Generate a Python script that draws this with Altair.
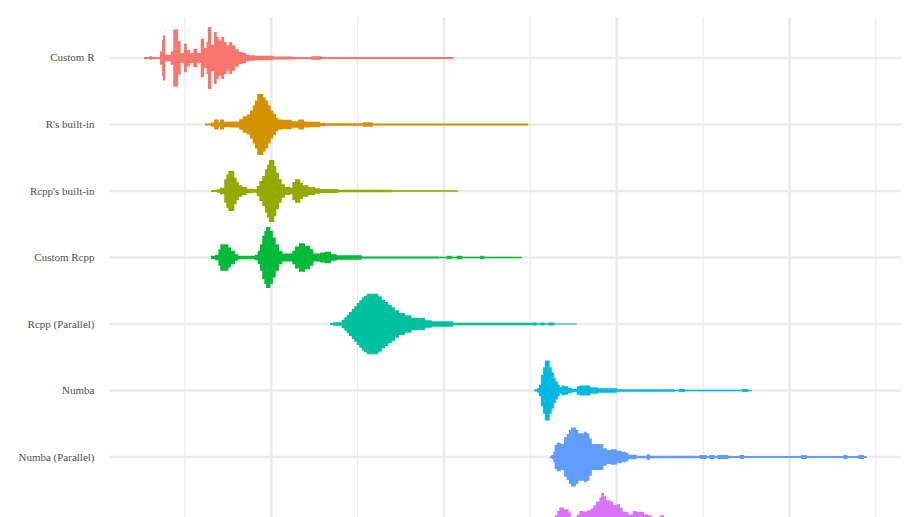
import json
import altair as alt
import pandas as pd

# ---- categories (top to bottom) and colours ----
groups = ["Custom R", "R's built-in", "Rcpp's built-in", "Custom Rcpp",
          "Rcpp (Parallel)", "Numba", "Numba (Parallel)", "Numba (GPU)"]
colors = ["#F8766D", "#D39200", "#93AA00", "#00BA38",
          "#00C19F", "#00B9E3", "#619CFF", "#DB72FB"]

# ---- violin profiles: value positions and half-widths (density, in row units) ----
custom_r_x = [26.3, 29.4, 31.0, 35.6, 36.8, 37.3, 38.7, 41.8, 43.3, 46.0, 47.6, 49.5, 51.1,
              53.0, 54.9, 57.2, 59.2, 61.1, 62.6, 63.4, 65.3, 66.9, 68.4, 69.6, 71.1, 72.7,
              74.2, 75.7, 77.3, 79.2, 81.2, 83.5, 85.4, 87.3, 90.6, 101.2, 112.8, 123.4,
              129.2, 205.4]
custom_r_w = [0.015, 0.026, 0.015, 0.10, 0.27, 0.34, 0.05, 0.10, 0.43, 0.25, 0.075, 0.215,
              0.125, 0.075, 0.14, 0.075, 0.29, 0.15, 0.24, 0.466, 0.20, 0.39, 0.316, 0.266,
              0.316, 0.24, 0.19, 0.24, 0.19, 0.13, 0.09, 0.08, 0.05, 0.04, 0.035, 0.023,
              0.015, 0.026, 0.015, 0.015]

r_builtin_x = [61.7, 65.1, 66.9, 69.6, 70.3, 72.7, 76.5, 81.5, 83.5, 85.8, 87.7, 89.3, 90.6,
               91.9, 95.4, 96.8, 98.3, 99.7, 101.2, 102.8, 104.1, 106.1, 111.9, 115.7, 119.0,
               122.1, 128.2, 131.1, 153.0, 158.8, 248.8]
r_builtin_w = [0.015, 0.03, 0.075, 0.03, 0.075, 0.04, 0.045, 0.08, 0.125, 0.15, 0.21, 0.286,
               0.36, 0.46, 0.406, 0.36, 0.286, 0.21, 0.16, 0.10, 0.075, 0.07, 0.05, 0.075,
               0.045, 0.04, 0.026, 0.02, 0.035, 0.015, 0.015]

rcpp_builtin_x = [65.1, 68.6, 70.3, 72.8, 74.0, 75.2, 78.6, 80.0, 81.3, 83.3, 85.8, 89.6,
                  91.6, 93.1, 94.8, 96.4, 97.6, 98.7, 101.8, 102.9, 104.5, 106.1, 108.0,
                  111.1, 112.2, 113.8, 116.8, 118.4, 121.5, 125.4, 128.2, 138.8, 169.8, 208.3]
rcpp_builtin_w = [0.015, 0.026, 0.05, 0.176, 0.25, 0.30, 0.20, 0.135, 0.086, 0.06, 0.035,
                  0.026, 0.075, 0.15, 0.225, 0.326, 0.40, 0.466, 0.376, 0.275, 0.176, 0.10,
                  0.06, 0.05, 0.135, 0.176, 0.125, 0.086, 0.06, 0.04, 0.03, 0.02, 0.01, 0.01]

custom_rcpp_x = [65.1, 67.5, 69.4, 70.5, 75.2, 76.7, 79.0, 80.9, 90.6, 92.2, 93.5, 94.8, 96.0,
                 97.0, 99.5, 101.0, 102.6, 104.5, 106.4, 112.2, 113.8, 116.1, 119.6, 122.5,
                 124.4, 128.2, 131.1, 134.6, 137.9, 152.4, 196.7, 201.6, 204.5, 207.4, 210.6,
                 220.9, 223.4, 245.0]
custom_rcpp_w = [0.026, 0.04, 0.125, 0.20, 0.15, 0.10, 0.05, 0.026, 0.04, 0.10, 0.20, 0.326,
                 0.40, 0.46, 0.40, 0.30, 0.20, 0.10, 0.06, 0.10, 0.165, 0.215, 0.176, 0.125,
                 0.06, 0.075, 0.086, 0.05, 0.035, 0.015, 0.01, 0.026, 0.01, 0.026, 0.01,
                 0.026, 0.01, 0.01]

rcpp_par_x = [134.0, 135.9, 140.8, 142.3, 143.7, 145.0, 146.6, 148.1, 149.5, 151.0, 152.4,
              153.7, 155.3, 162.0, 164.0, 165.9, 167.8, 169.8, 171.7, 174.0, 177.5, 181.3,
              189.0, 192.9, 205.4, 251.3, 253.6, 255.9, 258.2, 260.6, 264.0, 276.9]
rcpp_par_w = [0.015, 0.026, 0.065, 0.10, 0.14, 0.18, 0.226, 0.266, 0.316, 0.356, 0.40, 0.426,
              0.456, 0.416, 0.365, 0.33, 0.29, 0.25, 0.206, 0.165, 0.13, 0.09, 0.056, 0.04,
              0.02, 0.023, 0.012, 0.023, 0.012, 0.023, 0.008, 0.008]

numba_x = [252.3, 253.9, 255.0, 256.2, 257.4, 258.5, 261.2, 262.4, 263.6, 264.7, 265.9, 267.0,
           268.2, 269.7, 272.0, 274.0, 276.9, 278.4, 284.6, 289.0, 300.2, 333.8, 336.1, 339.6,
           372.8, 375.9, 378.2]
numba_w = [0.015, 0.035, 0.086, 0.236, 0.35, 0.45, 0.35, 0.275, 0.19, 0.135, 0.086, 0.05,
           0.075, 0.065, 0.04, 0.026, 0.065, 0.075, 0.05, 0.035, 0.02, 0.01, 0.023, 0.01,
           0.023, 0.01, 0.01]

numba_par_x = [261.4, 262.2, 263.3, 264.1, 265.3, 267.6, 269.5, 271.1, 272.4, 273.6, 276.5,
               277.8, 280.3, 281.1, 282.7, 284.2, 285.6, 292.3, 294.2, 296.6, 300.0, 302.9,
               305.4, 306.8, 311.6, 317.4, 319.3, 346.4, 347.9, 352.1, 353.6, 356.8, 358.3,
               364.7, 371.0, 373.7, 406.7, 410.0, 431.2, 433.6, 439.9, 443.2, 444.8]
numba_par_w = [0.015, 0.03, 0.08, 0.18, 0.215, 0.195, 0.296, 0.346, 0.406, 0.444, 0.406,
               0.356, 0.356, 0.38, 0.356, 0.28, 0.195, 0.13, 0.105, 0.116, 0.095, 0.08,
               0.065, 0.035, 0.02, 0.04, 0.02, 0.015, 0.03, 0.015, 0.03, 0.015, 0.03, 0.015,
               0.03, 0.015, 0.03, 0.015, 0.03, 0.015, 0.03, 0.015, 0.015]

numba_gpu_x = [263.3, 264.3, 265.6, 266.8, 269.5, 272.2, 273.4, 276.9, 278.4, 280.7, 283.0,
               285.0, 286.5, 288.0, 290.0, 291.1, 292.7, 293.8, 296.6, 298.1, 300.0, 301.9,
               303.5, 306.8, 309.3, 311.6, 315.8, 318.3, 320.3, 325.1, 327.4, 348.3]
numba_gpu_w = [0.03, 0.125, 0.19, 0.24, 0.215, 0.165, 0.10, 0.135, 0.19, 0.18, 0.20, 0.226,
               0.275, 0.326, 0.39, 0.46, 0.41, 0.35, 0.326, 0.275, 0.29, 0.236, 0.176, 0.135,
               0.19, 0.176, 0.14, 0.125, 0.075, 0.125, 0.03, 0.03]

profiles = [(custom_r_x, custom_r_w), (r_builtin_x, r_builtin_w),
            (rcpp_builtin_x, rcpp_builtin_w), (custom_rcpp_x, custom_rcpp_w),
            (rcpp_par_x, rcpp_par_w), (numba_x, numba_w),
            (numba_par_x, numba_par_w), (numba_gpu_x, numba_gpu_w)]

# ---- axis gridline values ----
major_ticks = [100, 200, 300, 400]
minor_ticks = [50, 150, 250, 350, 450]

rows = []
for i, (g, (xs, ws)) in enumerate(zip(groups, profiles)):
    for x, w in zip(xs, ws):
        rows.append({"group": g, "idx": i, "v": x, "hw": w})
df = pd.DataFrame(rows)

xscale = alt.Scale(domain=[6.08, 464.6], nice=False, zero=False)
yscale = alt.Scale(domain=[-0.6165, 6.902], nice=False, zero=False, reverse=True)

grid_color = "#EBEBEB"

label_expr = json.dumps(groups) + "[datum.value]"
yaxis = alt.Axis(values=list(range(7)), labelExpr=label_expr, grid=False,
                 domain=False, ticks=False, tickSize=0, labelPadding=15,
                 labelFont="Liberation Serif", labelFontSize=11,
                 labelColor="#4D4D4D", title=None)

minor = alt.Chart(pd.DataFrame({"t": minor_ticks})).mark_rule(
    color=grid_color, strokeWidth=1.2
).encode(x=alt.X("t:Q", scale=xscale, axis=None))

major = alt.Chart(pd.DataFrame({"t": major_ticks})).mark_rule(
    color=grid_color, strokeWidth=2.6
).encode(x=alt.X("t:Q", scale=xscale, axis=None))

hgrid = alt.Chart(pd.DataFrame({"i": list(range(len(groups)))})).mark_rule(
    color=grid_color, strokeWidth=2.6
).encode(y=alt.Y("i:Q", scale=yscale, axis=yaxis))

violins = alt.Chart(df).transform_calculate(
    lo="datum.idx - datum.hw", hi="datum.idx + datum.hw"
).mark_area(interpolate="step-after", clip=True, opacity=1).encode(
    x=alt.X("v:Q", scale=xscale, axis=None),
    y=alt.Y("lo:Q", scale=yscale, axis=yaxis, stack=False),
    y2="hi:Q",
    color=alt.Color("group:N", scale=alt.Scale(domain=groups, range=colors), legend=None),
    detail="group:N",
)

chart = alt.layer(minor, major, hgrid, violins).properties(
    width=792, height=500,
    padding={"left": 109, "top": 17, "right": 17, "bottom": 0},
    autosize=alt.AutoSizeParams(type="none"),
    background="white",
).configure_view(strokeWidth=0)

chart.save("out.html", embed_options={"renderer": "svg", "actions": False})
